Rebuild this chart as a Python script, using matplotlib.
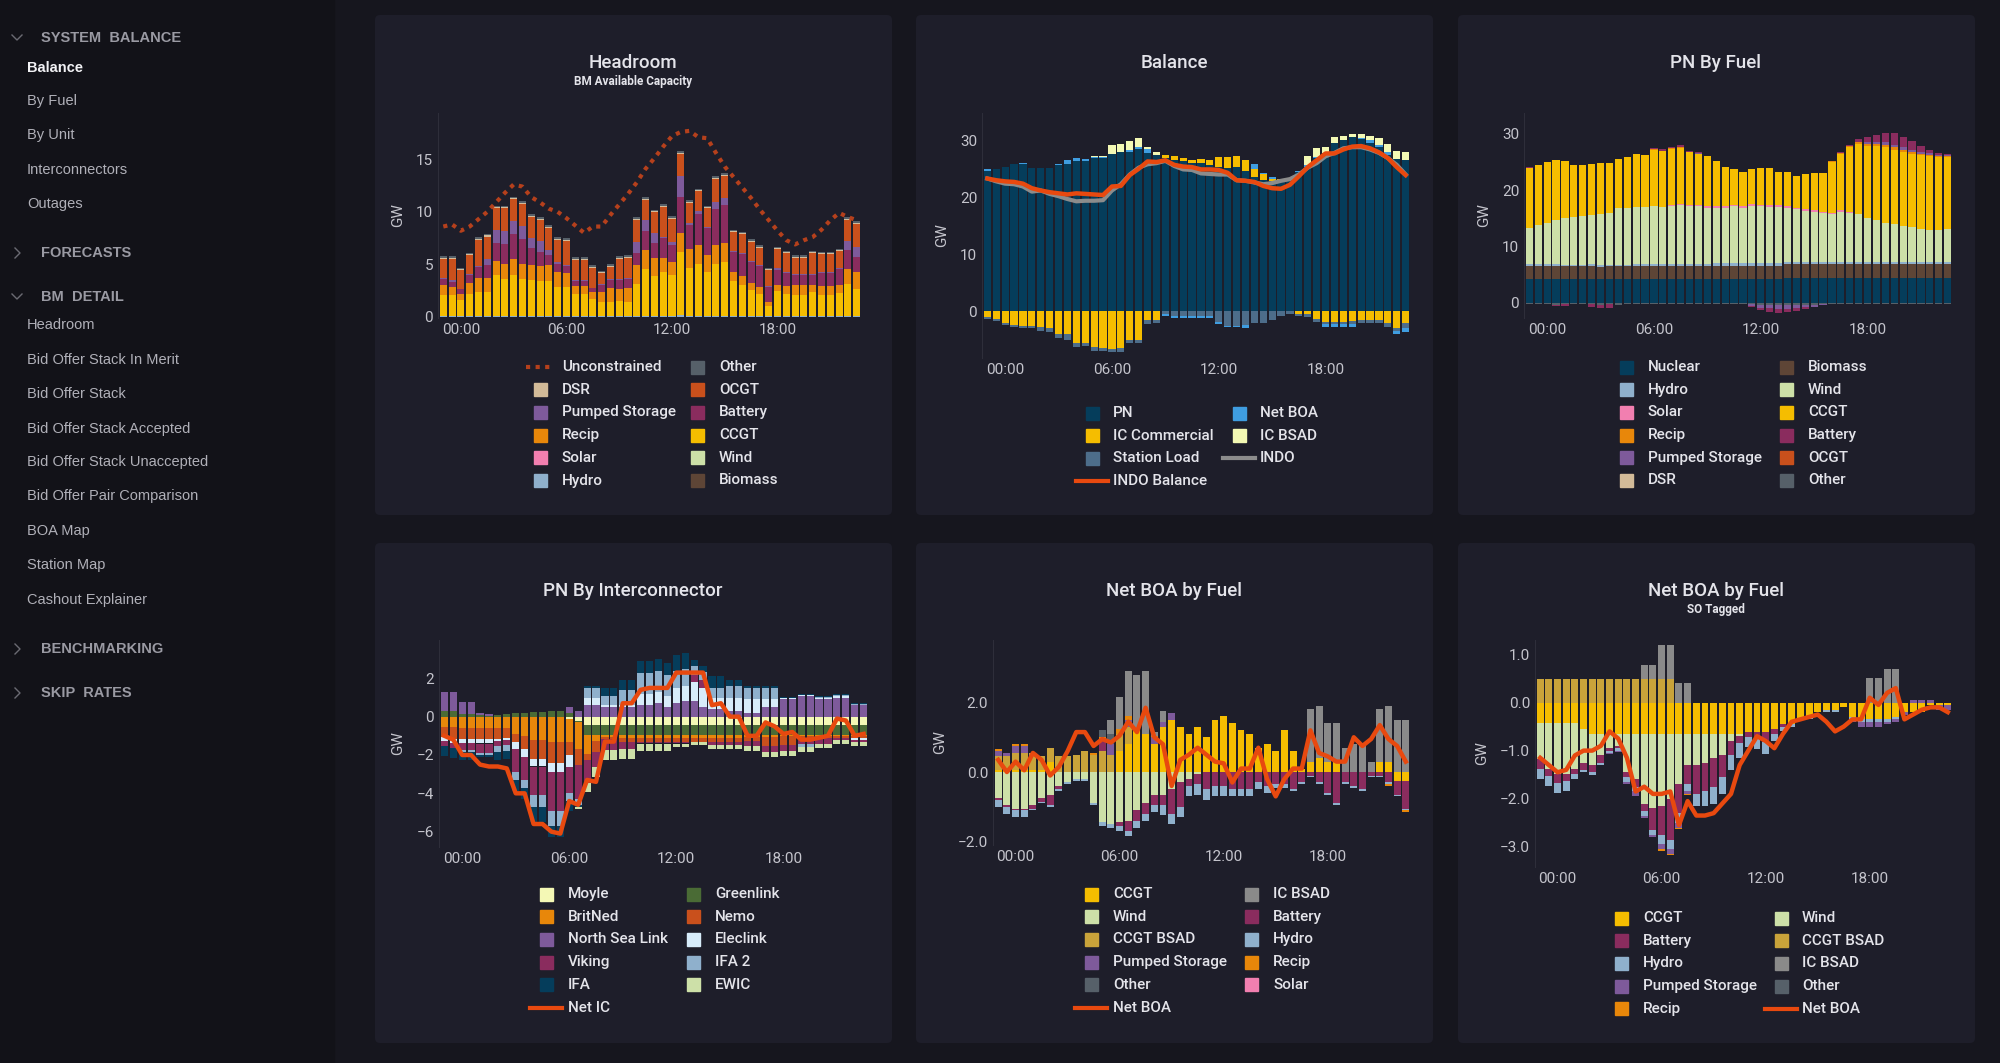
import numpy as np
import matplotlib
matplotlib.use('Agg')
import matplotlib.pyplot as plt
from matplotlib.patches import FancyBboxPatch, Rectangle

plt.rcParams['font.family'] = ['Roboto', 'DejaVu Sans']

# ---------------- data (48 half-hour periods, 00:00 at index 2) ----------------
tick_pos = [2, 14, 26, 38]
tick_lbl = ['00:00', '06:00', '12:00', '18:00']

# Headroom
hr_hydro = [0.05,0.05,0.05,0.05,0.05,0.05,0.05,0.05,0.1,0.05,0.05,0.05,0.05,0.05,0.05,0.05,0.05,0.05,0.05,0.05,0.05,0.05,0.05,0.05,0.05,0.05,0.05,0.2,0.05,0.05,0.05,0.05,0.05,0.05,0.05,0.05,0.05,0.05,0.05,0.05,0.05,0.05,0.05,0.05,0.05,0.05,0.05,0.05]
hr_ccgt = [2.0,2.0,1.6,2.1,2.3,2.3,3.9,3.6,3.9,3.6,3.5,3.4,3.4,2.8,2.8,2.1,2.1,1.7,1.4,1.4,1.5,1.4,3.1,4.5,3.8,4.2,3.9,6.0,4.6,5.0,4.2,5.0,5.2,3.4,3.0,2.5,2.1,1.0,2.4,2.1,2.0,2.0,2.3,2.0,2.0,2.2,3.1,2.6]
hr_recip = [1.0,0.8,0.5,1.1,1.4,1.4,1.4,1.4,1.5,1.4,1.4,1.4,1.5,1.4,1.3,0.8,0.8,0.6,0.9,1.3,1.1,1.3,1.8,1.8,1.8,1.4,1.3,1.8,1.8,1.8,1.6,1.8,1.8,0.8,0.8,0.7,0.7,0.4,0.6,0.8,1.0,1.0,0.7,0.9,0.9,0.8,1.4,1.6]
hr_battery = [0.6,0.5,0.5,0.7,1.0,1.2,1.7,1.9,2.4,2.4,1.6,1.3,0.9,0.8,0.7,0.5,0.5,0.4,0.7,0.8,0.9,0.9,1.1,1.8,1.4,1.9,1.6,3.4,2.3,2.9,2.6,3.4,3.6,1.9,2.1,2.0,2.0,1.4,1.4,1.2,0.9,0.9,0.9,1.2,1.2,1.5,1.8,1.5]
hr_ps = [0.1,0.2,0.0,0.1,0.1,0.6,1.2,1.2,1.2,1.2,1.0,1.1,0.5,0.2,0.1,0.1,0.1,0.0,0.1,0.1,0.1,0.1,1.1,1.1,0.9,0.1,0.3,2.0,0.2,0.3,0.1,0.7,0.7,0.1,0.1,0.1,0.1,0.1,0.2,0.1,0.1,0.1,0.1,0.1,0.1,0.1,0.9,0.9]
hr_ocgt = [1.8,2.0,1.8,1.8,2.5,2.1,2.1,2.2,2.1,2.1,2.0,2.0,2.1,2.1,2.3,1.9,1.9,1.9,1.0,1.1,1.9,1.9,2.1,1.9,2.0,2.8,2.2,2.1,1.9,1.9,1.8,2.2,2.1,1.8,1.8,1.8,1.6,1.5,1.8,1.8,1.6,1.6,2.0,1.7,1.7,1.6,2.0,2.2]
hr_dsr = [0.1,0.1,0.1,0.1,0.1,0.1,0.1,0.1,0.1,0.1,0.1,0.1,0.1,0.1,0.1,0.1,0.1,0.1,0.1,0.1,0.1,0.1,0.1,0.1,0.1,0.1,0.1,0.1,0.1,0.1,0.1,0.1,0.1,0.1,0.1,0.1,0.1,0.1,0.1,0.1,0.1,0.1,0.1,0.1,0.1,0.1,0.1,0.1]
hr_other = [0.15,0.15,0.15,0.15,0.15,0.15,0.15,0.15,0.15,0.15,0.15,0.15,0.15,0.15,0.15,0.15,0.15,0.15,0.15,0.15,0.15,0.15,0.15,0.15,0.15,0.15,0.15,0.15,0.15,0.15,0.15,0.15,0.15,0.15,0.15,0.15,0.15,0.15,0.15,0.15,0.15,0.15,0.15,0.15,0.15,0.15,0.15,0.15]
hr_unconstrained = [8.6,8.8,8.2,8.6,9.3,10.0,10.9,11.8,12.6,12.4,11.4,10.9,10.3,10.0,9.4,8.7,8.0,8.6,8.6,9.7,10.7,11.7,12.8,14.1,15.1,16.2,17.2,17.6,17.7,17.1,17.0,15.6,14.3,13.3,12.3,11.3,10.2,9.2,8.2,7.3,6.9,7.3,7.6,8.3,9.2,9.9,9.5,9.2]

# Balance
bal_pn = [24.7,24.9,25.4,25.8,25.8,25.1,25.1,25.1,25.6,25.9,26.3,26.3,26.9,26.9,27.6,27.9,27.9,28.4,27.8,27.4,26.9,26.6,26.3,26.0,26.0,25.7,25.4,25.1,25.3,24.6,23.6,23.0,22.8,22.8,23.0,24.4,25.4,26.9,27.8,29.5,30.0,30.6,30.3,29.6,28.8,27.5,26.8,26.6]
bal_ic_comm = [-1.0,-1.4,-2.1,-2.4,-2.5,-2.5,-2.8,-3.0,-3.9,-4.0,-5.5,-5.5,-6.3,-6.4,-6.6,-6.5,-5.1,-5.0,-1.6,-1.5,0.6,0.7,0.6,0.6,0.7,0.8,1.6,1.9,1.9,2.0,1.4,1.1,0.5,0.5,0.0,-0.5,-0.5,-1.4,-1.8,-1.8,-1.8,-1.7,-1.5,-1.5,-1.5,-2.0,-2.9,-2.1]
bal_station = [-0.4,-0.3,-0.3,-0.4,-0.5,-0.5,-0.6,-0.7,-0.8,-1.0,-0.7,-0.6,-0.6,-0.6,-0.6,-0.6,-0.5,-0.5,-0.6,-0.6,-0.5,-0.8,-0.8,-0.8,-0.8,-0.8,-1.9,-2.5,-2.5,-2.4,-2.0,-2.1,-1.6,-0.8,-0.4,-0.4,-0.5,-0.5,-0.5,-0.5,-0.4,-0.5,-0.5,-0.5,-0.6,-0.8,-0.6,-0.9]
bal_net_boa = [0.3,0.0,0.0,0.0,0.3,0.0,0.0,0.0,0.3,0.6,0.6,0.5,0.1,0.1,0.0,0.0,0.4,0.5,0.6,0.1,-0.3,-0.3,-0.3,-0.3,-0.3,-0.3,-0.3,-0.3,-0.3,-0.5,0.8,0.2,0.3,0.0,0.0,0.3,0.3,0.2,-0.5,-0.5,-0.5,-0.5,0.2,0.5,0.3,0.5,-0.5,-0.7]
bal_ic_bsad = [0.0,0.0,0.0,0.0,0.0,0.0,0.0,0.0,0.0,0.0,0.0,0.0,0.3,0.3,1.5,1.5,1.5,1.5,0.4,0.4,0.0,0.0,0.0,0.0,0.0,0.0,0.0,0.0,0.0,0.0,0.0,0.0,0.0,0.0,0.0,0.0,1.5,1.5,1.1,1.1,0.8,0.6,0.6,0.7,1.3,1.3,1.3,1.4]
bal_indo = [23.3,22.8,22.4,22.3,21.9,21.0,21.2,20.6,20.2,19.7,19.3,19.4,19.4,19.5,21.2,22.3,24.0,25.2,25.8,26.0,26.4,25.5,24.9,24.8,24.2,24.1,24.0,24.0,23.0,22.9,22.6,22.3,22.5,22.9,23.2,24.0,25.2,26.0,27.2,27.8,28.6,28.8,28.8,28.4,27.8,26.9,25.7,24.0]
bal_indo_balance = [23.3,23.0,22.8,22.7,22.4,21.6,21.2,20.9,20.7,20.5,20.7,20.6,20.5,20.4,21.9,22.0,23.9,25.0,26.3,26.2,26.5,25.7,25.4,25.3,24.9,24.9,24.8,24.3,23.0,22.9,22.7,22.0,21.6,21.5,22.2,23.7,25.3,26.5,27.7,27.7,28.4,28.9,29.0,28.6,27.9,26.9,25.3,23.9]

# PN by fuel
pf_other = [-0.3,-0.3,-0.3,-0.4,-0.3,-0.3,-0.3,-0.3,-0.4,-0.3,-0.4,-0.3,-0.3,-0.3,-0.2,-0.2,-0.2,-0.2,-0.2,-0.2,-0.2,-0.2,-0.3,-0.3,-0.3,-0.3,-0.4,-0.4,-0.4,-0.4,-0.4,-0.4,-0.4,-0.3,-0.3,-0.3,-0.2,-0.2,-0.2,-0.2,-0.2,-0.2,-0.3,-0.3,-0.3,-0.3,-0.3,-0.3]
pf_nuclear = [4.3,4.3,4.3,4.3,4.3,4.3,4.3,4.3,4.3,4.3,4.3,4.3,4.3,4.3,4.3,4.3,4.3,4.3,4.3,4.3,4.3,4.3,4.3,4.3,4.3,4.3,4.3,4.3,4.3,4.4,4.4,4.4,4.4,4.4,4.4,4.4,4.4,4.4,4.4,4.4,4.4,4.4,4.4,4.4,4.4,4.4,4.4,4.4]
pf_biomass = [2.2,2.2,2.2,2.2,2.2,2.2,2.2,2.2,2.0,2.2,2.2,2.2,2.3,2.3,2.3,2.3,2.3,2.3,2.3,2.3,2.3,2.3,2.3,2.3,2.3,2.3,2.3,2.3,2.3,2.4,2.4,2.4,2.4,2.4,2.4,2.4,2.4,2.4,2.4,2.4,2.4,2.4,2.4,2.4,2.4,2.4,2.4,2.4]
pf_hydro = [0.4,0.4,0.3,0.3,0.2,0.2,0.2,0.3,0.4,0.2,0.2,0.2,0.2,0.2,0.3,0.3,0.3,0.3,0.3,0.3,0.3,0.4,0.4,0.4,0.4,0.4,0.4,0.4,0.4,0.4,0.4,0.4,0.4,0.4,0.4,0.4,0.4,0.4,0.4,0.4,0.4,0.4,0.4,0.4,0.4,0.4,0.4,0.4]
pf_wind = [6.3,6.9,7.4,7.9,8.3,8.5,8.7,8.8,9.0,9.3,10.1,10.1,10.2,10.2,10.3,10.1,10.3,10.5,10.3,10.2,10.0,9.9,9.8,10.1,9.8,10.2,10.1,10.0,10.0,9.7,9.4,9.1,9.0,8.7,8.5,9.0,8.8,8.5,7.8,7.5,7.0,6.8,6.5,6.3,5.9,5.7,5.7,5.9]
pf_solar = [0.0,0.0,0.0,0.0,0.0,0.0,0.0,0.0,0.0,0.0,0.0,0.0,0.0,0.0,0.0,0.0,0.1,0.1,0.2,0.2,0.2,0.3,0.3,0.3,0.3,0.3,0.3,0.3,0.3,0.3,0.3,0.3,0.3,0.3,0.3,0.3,0.2,0.1,0.1,0.0,0.0,0.0,0.0,0.0,0.0,0.0,0.0,0.0]
pf_ccgt = [10.7,10.7,10.8,10.6,10.1,9.3,9.1,9.0,9.2,8.8,8.7,9.1,9.5,9.3,10.0,9.9,10.0,10.0,9.3,9.2,9.0,8.0,7.1,6.4,6.2,6.2,6.5,6.6,6.0,6.0,5.7,6.2,6.5,6.8,9.0,10.0,11.4,12.4,12.7,13.1,13.5,13.2,13.1,12.9,13.1,13.1,13.0,12.7]
pf_recip = [0.0,0.0,0.0,0.0,0.0,0.0,0.0,0.0,0.0,0.0,0.0,0.0,0.0,0.0,0.1,0.1,0.1,0.1,0.0,0.0,0.0,0.0,0.0,0.0,0.0,0.0,0.0,0.0,0.0,0.0,0.0,0.0,0.0,0.0,0.1,0.1,0.2,0.3,0.4,0.4,0.4,0.4,0.4,0.4,0.3,0.3,0.2,0.2]
pf_battery = [0.3,0.0,0.0,-0.2,-0.2,0.0,0.0,-0.5,-0.5,-0.6,0.0,0.0,0.0,0.0,0.2,0.3,0.3,0.4,0.1,0.2,0.0,0.0,0.0,0.0,0.0,-0.3,-0.4,-0.6,-0.8,-0.6,-0.5,-0.3,-0.1,0.0,0.0,0.1,0.2,0.4,1.0,1.2,1.5,2.0,1.8,1.6,1.0,0.5,0.3,0.2]
pf_ps = [0.0,0.0,0.0,0.0,0.0,0.0,0.0,0.0,0.0,0.0,0.0,0.0,0.0,0.0,0.0,0.0,0.0,0.0,0.1,0.1,0.0,0.0,0.0,0.0,0.0,-0.2,-0.5,-0.6,-0.7,-0.7,-0.5,-0.4,-0.3,-0.1,0.0,0.0,0.1,0.1,0.3,0.4,0.5,0.5,0.5,0.4,0.3,0.3,0.2,0.2]

# PN by interconnector
ic_moyle = [0.0,0.0,0.0,0.0,0.0,0.0,0.0,0.0,0.0,0.0,0.0,0.0,0.0,0.0,-0.1,-0.2,-0.45,-0.45,-0.45,-0.45,-0.45,-0.45,-0.45,-0.45,-0.45,-0.45,-0.45,-0.45,-0.45,-0.45,-0.45,-0.45,-0.45,-0.45,-0.45,-0.45,-0.45,-0.45,-0.45,-0.45,-0.45,-0.45,-0.45,-0.45,-0.45,-0.45,-0.45,-0.45]
ic_greenlink = [0.3,0.3,0.15,0.15,0.1,0.05,0.1,0.15,0.2,0.2,0.25,0.25,0.3,0.3,0.2,-0.1,-0.5,-0.5,-0.5,-0.5,-0.5,-0.5,-0.5,-0.5,-0.5,-0.5,-0.5,-0.5,-0.5,-0.5,-0.5,-0.5,-0.5,-0.5,-0.5,-0.5,-0.5,-0.5,-0.5,-0.5,-0.5,-0.5,-0.5,-0.5,-0.5,-0.5,-0.5,-0.5]
ic_britned = [-0.55,-0.55,-0.6,-0.6,-0.6,-0.6,-0.6,-0.6,-0.9,-1.0,-1.2,-1.2,-1.3,-1.3,-1.2,-1.4,-1.0,-0.3,-0.1,-0.1,-0.15,-0.15,-0.15,-0.15,-0.15,-0.15,-0.15,-0.15,-0.15,-0.15,-0.15,-0.15,-0.15,-0.15,-0.1,-0.1,-0.1,-0.1,-0.05,-0.05,-0.05,-0.05,-0.05,-0.05,-0.05,-0.05,-0.05,-0.05]
ic_nemo = [-0.5,-0.6,-0.55,-0.55,-0.55,-0.55,-0.55,-0.5,-0.4,-0.7,-1.0,-1.0,-1.1,-1.1,-0.7,-0.8,-0.3,-0.6,-0.1,-0.1,-0.2,-0.2,-0.2,-0.2,-0.2,-0.2,-0.2,-0.2,-0.2,-0.2,-0.2,-0.2,-0.2,-0.2,-0.2,-0.2,-0.5,-0.5,-0.5,-0.5,-0.1,-0.1,-0.1,-0.1,-0.1,-0.1,-0.1,-0.1]
ic_nsl = [1.0,1.0,0.6,0.6,0.1,0.1,0.0,0.0,0.0,0.0,0.0,0.0,0.0,0.0,0.3,0.3,0.6,0.6,0.5,0.5,0.5,0.5,0.6,0.6,0.7,0.5,0.7,0.8,0.8,0.5,0.4,0.4,0.3,0.3,0.2,0.2,0.5,0.5,0.9,0.9,1.1,1.1,0.9,0.9,1.0,1.0,0.6,0.6]
ic_eleclink = [-0.2,-0.2,-0.2,-0.2,-0.25,-0.25,-0.1,-0.1,-0.4,-0.4,-0.4,-0.4,-0.5,-0.5,-0.6,0.0,0.4,0.4,0.1,0.1,0.1,0.1,0.6,0.6,0.6,0.6,0.8,0.8,1.0,1.0,0.6,0.6,0.7,0.7,0.7,0.7,0.4,0.4,0.05,0.05,0.05,0.05,0.1,0.1,0.1,0.1,-0.1,-0.1]
ic_viking = [-0.3,-0.3,-0.4,-0.4,-0.5,-0.5,-0.3,-0.3,-1.2,-1.2,-1.5,-1.5,-2.0,-2.0,-1.4,-1.8,-1.2,-0.8,-0.6,-0.6,-0.4,-0.4,-0.1,-0.1,-0.1,-0.1,-0.1,-0.1,0.4,0.4,-0.2,-0.2,-0.2,-0.2,-0.3,-0.3,-0.3,-0.3,-0.3,-0.3,-0.3,-0.3,-0.3,-0.3,-0.1,-0.1,-0.1,-0.1]
ic_ifa2 = [0.0,0.0,-0.1,-0.1,-0.1,-0.1,-0.3,-0.3,-0.4,-0.4,-0.6,-0.6,-0.8,-0.8,-0.4,-0.3,0.5,0.5,0.5,0.5,0.8,0.8,1.1,1.1,1.1,1.1,0.9,0.9,0.45,0.45,0.5,0.5,0.6,0.6,0.6,0.6,0.6,0.6,0.05,0.05,-0.2,-0.2,0.05,0.05,0.05,0.05,0.05,0.05]
ic_ifa = [-0.5,-0.5,-0.4,-0.4,-0.1,-0.1,-0.4,-0.4,-0.6,-0.6,-0.8,-0.8,-0.6,-0.6,-0.5,-0.1,0.1,0.1,0.4,0.4,0.5,0.5,0.6,0.6,0.6,0.6,0.8,0.8,0.3,0.3,0.6,0.6,0.3,0.3,0.1,0.1,0.1,0.1,0.05,0.05,0.05,0.05,0.05,0.05,0.05,0.05,0.05,0.05]
ic_ewic = [0.0,0.0,0.0,0.0,0.0,0.0,0.0,0.0,0.0,0.0,0.0,0.0,0.0,0.0,0.0,-0.1,-0.5,-0.5,-0.5,-0.5,-0.5,-0.5,-0.4,-0.4,-0.4,-0.4,-0.2,-0.2,-0.2,-0.2,-0.2,-0.2,-0.2,-0.2,-0.25,-0.25,-0.25,-0.25,-0.25,-0.25,-0.25,-0.25,-0.25,-0.25,-0.25,-0.25,-0.25,-0.25]
ic_net = [-1.0,-1.2,-2.0,-2.0,-2.5,-2.6,-2.6,-2.7,-4.0,-4.0,-5.6,-5.6,-6.0,-6.1,-4.4,-4.6,-3.3,-3.4,-1.3,-1.3,0.7,0.7,1.4,1.5,1.5,1.5,2.3,2.3,2.3,2.3,0.6,0.7,0.0,0.0,-1.0,-1.0,-0.3,-0.5,-0.9,-0.8,-1.2,-1.2,-1.1,-1.0,-0.1,-0.2,-1.0,-0.9]

# Net BOA by fuel
nb_ccgt = [0.05,0.05,0.05,0.05,0.05,0.05,0.3,0.0,0.0,0.0,0.0,0.0,0.0,0.0,0.6,0.8,1.2,1.1,0.8,1.3,1.5,1.3,1.1,1.3,1.0,1.5,1.6,1.4,1.2,1.1,0.7,0.8,0.6,1.2,0.6,0.1,0.3,0.4,0.3,0.3,0.0,0.0,0.0,0.0,0.3,0.3,-0.25,-0.25]
nb_wind = [-0.75,-0.95,-1.05,-1.05,-0.95,-0.75,-0.65,-0.4,-0.3,-0.2,-0.2,-0.9,-1.45,-1.5,-1.45,-1.4,-1.1,-0.9,-0.65,-0.65,-0.5,-0.3,-0.2,-0.05,0.0,0.0,0.0,0.0,0.0,0.0,0.0,0.0,0.0,0.0,0.0,0.0,0.0,0.0,0.0,0.0,0.0,0.0,0.0,0.0,0.0,0.0,0.0,0.0]
nb_ccgt_bsad = [0.4,0.4,0.5,0.5,0.5,0.4,0.4,0.45,0.45,0.5,0.6,0.5,0.6,0.5,0.5,0.5,0.0,0.0,0.0,0.0,0.0,0.0,0.0,0.0,0.0,0.0,0.0,0.0,0.0,0.0,0.0,0.0,0.0,0.0,0.0,0.0,0.0,0.0,0.0,0.0,0.0,0.0,0.0,0.0,0.0,0.0,0.0,0.0]
nb_ps = [0.15,0.1,0.2,0.2,0.0,0.0,0.0,0.0,0.0,0.0,0.0,0.0,0.0,0.3,0.0,0.2,0.0,0.0,0.2,0.15,0.2,0.0,0.0,0.0,0.0,0.0,0.0,0.0,0.0,0.0,0.0,0.0,0.0,0.0,0.0,0.0,0.0,0.0,0.0,0.0,0.0,0.0,0.0,0.0,0.0,0.0,0.0,0.0]
nb_other = [0.0,0.0,0.0,0.0,0.0,0.0,0.0,0.0,0.0,0.0,0.0,0.0,0.2,0.3,0.0,0.0,0.0,0.0,0.0,0.0,0.0,0.0,0.0,0.0,0.0,0.0,0.0,0.0,0.0,0.0,0.0,0.0,0.0,0.0,0.0,0.0,0.0,0.0,0.0,0.0,0.0,0.0,0.0,0.0,0.0,0.0,0.0,0.0]
nb_ic_bsad = [0.0,0.0,0.0,0.0,0.0,0.0,0.0,0.0,0.0,0.0,0.0,0.0,0.0,0.4,0.9,1.3,1.6,1.8,0.1,0.3,0.0,0.0,0.0,0.0,0.0,0.0,0.0,0.0,0.0,0.0,0.0,0.0,0.0,0.0,0.0,0.0,1.5,1.5,1.1,1.1,0.7,0.8,0.8,0.3,1.5,1.6,1.5,1.5]
nb_battery = [-0.05,-0.05,-0.05,-0.05,-0.1,-0.1,-0.3,-0.1,0.0,0.0,0.0,0.0,0.3,0.0,-0.1,-0.3,-0.3,-0.3,-0.3,-0.3,-0.7,-0.7,-0.2,-0.3,-0.5,-0.4,-0.4,-0.5,-0.5,-0.5,-0.3,-0.4,-0.35,-0.35,-0.5,-0.3,-0.1,-0.3,-0.6,-0.9,-0.3,-0.4,-0.5,-0.1,-0.1,-0.3,-0.4,-0.8]
nb_hydro = [-0.2,-0.2,-0.2,-0.2,-0.05,-0.05,-0.05,-0.05,-0.05,-0.05,-0.05,-0.05,-0.1,-0.1,-0.15,-0.15,-0.2,-0.2,-0.2,-0.3,-0.3,-0.3,-0.3,-0.3,-0.3,-0.3,-0.3,-0.2,-0.2,-0.2,-0.2,-0.2,-0.1,-0.1,-0.05,-0.05,-0.05,-0.05,-0.05,-0.05,-0.05,-0.05,-0.05,-0.05,-0.05,-0.05,-0.05,-0.05]
nb_recip = [0.05,0.0,0.05,0.05,0.0,0.0,0.0,0.0,0.0,0.0,0.0,0.05,0.1,0.0,0.15,0.1,0.0,0.0,0.05,0.0,0.0,0.0,0.0,0.0,0.0,0.0,0.0,0.0,0.0,0.0,0.0,0.0,0.0,0.0,0.0,0.0,0.0,0.0,0.0,0.0,0.0,0.0,0.0,0.0,0.0,-0.05,0.0,-0.05]
nb_net = [0.35,0.0,0.3,0.05,0.55,0.35,-0.1,0.15,0.6,1.15,1.15,0.75,0.95,0.85,1.05,1.45,1.15,1.85,1.0,0.8,-0.4,0.35,0.5,0.7,0.5,0.3,0.25,-0.3,0.1,0.1,0.7,-0.2,-0.7,-0.2,0.1,0.1,1.2,0.55,0.45,0.3,0.3,1.0,0.75,0.95,1.35,0.95,0.75,0.3]

# Net BOA by fuel, SO tagged
so_ccgt = [-0.43,-0.43,-0.43,-0.43,-0.43,-0.55,-0.65,-0.65,-0.65,-0.65,-0.65,-0.65,-0.65,-0.65,-0.65,-0.65,-0.65,-0.65,-0.65,-0.65,-0.65,-0.65,-0.65,-0.65,-0.62,-0.62,-0.62,-0.55,-0.45,-0.45,-0.35,-0.3,-0.2,-0.15,-0.15,-0.1,-0.3,-0.35,-0.35,-0.35,-0.35,-0.3,-0.2,-0.2,-0.2,-0.05,-0.05,-0.05]
so_wind = [-0.75,-0.95,-1.05,-1.05,-0.95,-0.7,-0.65,-0.45,-0.3,-0.25,-0.8,-0.95,-1.45,-1.55,-1.5,-1.35,-1.05,-0.65,-0.65,-0.6,-0.5,-0.45,-0.15,-0.05,0.0,0.0,0.0,0.0,0.0,0.0,0.0,0.0,0.0,0.0,0.0,0.0,0.0,0.0,0.0,0.0,0.0,0.0,0.0,0.0,0.0,0.0,0.0,0.0]
so_battery = [-0.2,-0.15,-0.2,-0.15,-0.1,-0.15,-0.15,-0.15,-0.05,-0.05,-0.1,-0.15,-0.15,-0.45,-0.6,-0.85,-0.6,-0.4,-0.6,-0.6,-0.6,-0.45,-0.3,-0.15,-0.1,-0.1,-0.2,-0.1,-0.05,0.0,0.0,0.0,0.0,0.0,0.0,0.0,0.0,0.0,0.0,0.0,0.0,0.0,0.0,0.0,0.0,0.0,0.0,0.0]
so_hydro = [-0.2,-0.2,-0.2,-0.2,-0.1,-0.05,-0.05,-0.05,-0.05,-0.05,-0.1,-0.1,-0.1,-0.1,-0.2,-0.2,-0.2,-0.15,-0.25,-0.3,-0.35,-0.35,-0.3,-0.3,-0.2,-0.25,-0.25,-0.15,-0.1,-0.05,0.0,-0.05,0.0,-0.05,-0.05,0.0,-0.05,-0.05,-0.05,-0.05,-0.05,-0.05,0.0,0.0,0.0,0.0,0.0,0.0]
so_ps = [0.0,0.0,0.0,0.0,0.0,0.0,0.0,0.0,-0.03,-0.03,-0.05,-0.1,-0.05,-0.05,-0.1,-0.1,-0.1,-0.05,0.0,0.0,0.0,0.0,0.0,0.0,0.0,0.0,0.0,0.0,0.0,0.0,0.0,0.0,0.0,0.0,0.0,0.0,-0.05,-0.1,-0.1,-0.1,-0.05,-0.05,-0.05,0.05,0.05,0.05,-0.1,-0.1]
so_recip = [0.0,0.0,0.0,0.0,0.0,0.0,0.0,0.0,0.0,0.0,0.0,0.0,0.0,0.0,-0.03,-0.03,-0.03,-0.03,0.0,0.0,0.0,0.0,0.0,0.0,0.0,0.0,0.0,0.0,0.0,0.0,0.0,0.0,0.0,0.0,0.0,0.0,0.0,0.0,0.0,0.0,0.0,0.0,0.0,0.0,0.0,0.0,0.0,0.0]
so_ccgt_bsad = [0.48,0.48,0.48,0.48,0.48,0.48,0.48,0.48,0.48,0.48,0.48,0.48,0.48,0.48,0.48,0.48,0.0,0.0,0.0,0.0,0.0,0.0,0.0,0.0,0.0,0.0,0.0,0.0,0.0,0.0,0.0,0.0,0.0,0.0,0.0,0.0,0.0,0.0,0.0,0.0,0.0,0.0,0.0,0.0,0.0,0.0,0.0,0.0]
so_ic_bsad = [0.0,0.0,0.0,0.0,0.0,0.0,0.0,0.0,0.0,0.0,0.0,0.0,0.3,0.3,0.72,0.72,0.4,0.4,0.0,0.0,0.0,0.0,0.0,0.0,0.0,0.0,0.0,0.0,0.0,0.0,0.0,0.0,0.0,0.0,0.0,0.0,0.0,0.0,0.5,0.5,0.7,0.7,0.0,0.0,0.0,0.0,0.0,0.0]
so_net = [-1.15,-1.3,-1.45,-1.4,-1.1,-1.0,-1.0,-0.9,-0.6,-0.75,-1.15,-1.85,-1.75,-1.9,-1.9,-1.85,-2.55,-2.05,-2.35,-2.35,-2.3,-2.1,-1.9,-1.3,-1.0,-0.7,-0.8,-0.95,-0.65,-0.4,-0.35,-0.3,-0.25,-0.4,-0.6,-0.5,-0.35,-0.35,0.1,-0.05,0.2,0.3,-0.35,-0.25,-0.15,-0.1,-0.1,-0.2]

# ---------------- colours ----------------
C = {
    'nuclear': '#053d5b', 'hydro': '#8fb0cc', 'solar': '#f27fb0', 'recip': '#e8870a',
    'ps': '#7e5a9b', 'dsr': '#d3bb99', 'biomass': '#5e4536', 'wind': '#cde0a8',
    'ccgt': '#f5bd00', 'battery': '#8a2c5e', 'ocgt': '#c9501c', 'other': '#566069',
    'station': '#4d6d8a', 'netboa': '#3f9de0', 'icbsad': '#f3f9b4', 'indo': '#8c8c8c',
    'line': '#e8490f', 'uncon': '#b5401c', 'moyle': '#f4f8b5', 'greenlink': '#4a6b35',
    'eleclink': '#d7ecfa', 'ccgtbsad': '#c9a33a', 'icbsad2': '#8a8a8a',
}
FIG_BG = '#16161e'
SIDE_BG = '#121218'
PANEL_BG = '#1e1e2a'
TXT = '#e4e4ea'
TICK = '#c4c4cc'

W, H = 2000, 1063
fig = plt.figure(figsize=(W / 100, H / 100), dpi=100, facecolor=FIG_BG)
bg = fig.add_axes([0, 0, 1, 1], zorder=-5)
bg.set_xlim(0, W)
bg.set_ylim(H, 0)
bg.axis('off')
bg.add_patch(Rectangle((0, 0), 334, H, color=SIDE_BG))

# sidebar
side = [
    ('h', 'SYSTEM BALANCE', 38, 'v'), ('a', 'Balance', 68, None), ('i', 'By Fuel', 101, None),
    ('i', 'By Unit', 135, None), ('i', 'Interconnectors', 170, None), ('i', 'Outages', 204, None),
    ('h', 'FORECASTS', 253, '>'), ('h', 'BM DETAIL', 297, 'v'), ('i', 'Headroom', 325, None),
    ('i', 'Bid Offer Stack In Merit', 360, None), ('i', 'Bid Offer Stack', 394, None),
    ('i', 'Bid Offer Stack Accepted', 429, None), ('i', 'Bid Offer Stack Unaccepted', 462, None),
    ('i', 'Bid Offer Pair Comparison', 496, None), ('i', 'BOA Map', 531, None),
    ('i', 'Station Map', 565, None), ('i', 'Cashout Explainer', 600, None),
    ('h', 'BENCHMARKING', 649, '>'), ('h', 'SKIP RATES', 693, '>'),
]
for kind, label, y, chev in side:
    if kind == 'h':
        bg.text(41, y, '  '.join(label.split(' ')), color='#9a9aa3', fontsize=10.5, fontweight='bold',
                family='Liberation Sans', va='center')
        if chev == 'v':
            bg.plot([12, 17, 22], [y - 3, y + 2, y - 3], color='#6a6a72', lw=1)
        else:
            bg.plot([15, 20, 15], [y - 5, y, y + 5], color='#6a6a72', lw=1)
    elif kind == 'a':
        bg.text(27, y, label, color='#f2f2f5', fontsize=10.5, fontweight='bold', family='Liberation Sans', va='center')
    else:
        bg.text(27, y, label, color='#b0b0b8', fontsize=10.5, family='Liberation Sans', va='center')

panels = [(375, 15), (916, 15), (1458, 15), (375, 543), (916, 543), (1458, 543)]
for px, py in panels:
    bg.add_patch(FancyBboxPatch((px, py), 517, 500, boxstyle='round,pad=0,rounding_size=5',
                                facecolor=PANEL_BG, edgecolor='none'))


def make_ax(x0, x1, y0, y1):
    ax = fig.add_axes([x0 / W, 1 - y1 / H, (x1 - x0) / W, (y1 - y0) / H])
    ax.set_facecolor('none')
    for s in ['top', 'right', 'bottom']:
        ax.spines[s].set_visible(False)
    ax.spines['left'].set_color('#2e2e3a')
    ax.tick_params(length=0, colors=TICK, labelsize=11)
    ax.set_xticks(tick_pos)
    ax.set_xticklabels(tick_lbl)
    ax.set_xlim(-0.6, 47.6)
    ax.set_ylabel('GW', color=TICK, fontsize=11, labelpad=8)
    return ax


def stack(ax, series, colors, width=0.8):
    x = np.arange(48)
    pos = np.zeros(48)
    neg = np.zeros(48)
    for vals, col in zip(series, colors):
        v = np.asarray(vals, dtype=float)
        p = np.where(v > 0, v, 0)
        n = np.where(v < 0, v, 0)
        ax.bar(x, p, width, bottom=pos, color=col, linewidth=0)
        ax.bar(x, n, width, bottom=neg, color=col, linewidth=0)
        pos += p
        neg += n


def title(px, py, t, sub=None):
    bg.text(px + 258, py + 48, t, color=TXT, fontsize=13.5, fontweight='medium', ha='center', va='center')
    if sub:
        bg.text(px + 258, py + 67, sub, color=TXT, fontsize=8.5, fontweight='bold', ha='center', va='center')


def legend(px, y0, entries, cols):
    # entries: (label, colour, kind) placed row-major in two columns
    for k, (label, col, kind) in enumerate(entries):
        r, c = divmod(k, 2)
        mx, tx = cols[c]
        y = y0 + r * 22.7
        if kind == 'box':
            bg.add_patch(Rectangle((px + mx - 6.5, y - 6.5), 13, 13, color=col))
        elif kind == 'dot':
            bg.plot([px + mx - 14, px + mx + 14], [y, y], color=col, lw=3, ls=(0, (1, 1.3)))
        else:
            bg.plot([px + mx - 16, px + mx + 16], [y, y], color=col, lw=3)
        bg.text(px + tx, y, label, color=TXT, fontsize=11, fontweight='medium', va='center')


x48 = np.arange(48)

# ---- Headroom ----
ax = make_ax(438, 862, 113, 318)
stack(ax, [hr_hydro, hr_ccgt, hr_recip, hr_battery, hr_ps, hr_ocgt, hr_dsr, hr_other],
      [C['hydro'], C['ccgt'], C['recip'], C['battery'], C['ps'], C['ocgt'], C['dsr'], C['other']])
ax.plot(x48, hr_unconstrained, color=C['uncon'], lw=3, ls=(0, (1, 1.3)))
ax.set_ylim(-0.1, 19.4)
ax.set_yticks([0, 5, 10, 15])
title(375, 15, 'Headroom', 'BM Available Capacity')
legend(375, 367, [('Unconstrained', C['uncon'], 'dot'), ('Other', C['other'], 'box'),
                  ('DSR', C['dsr'], 'box'), ('OCGT', C['ocgt'], 'box'),
                  ('Pumped Storage', C['ps'], 'box'), ('Battery', C['battery'], 'box'),
                  ('Recip', C['recip'], 'box'), ('CCGT', C['ccgt'], 'box'),
                  ('Solar', C['solar'], 'box'), ('Wind', C['wind'], 'box'),
                  ('Hydro', C['hydro'], 'box'), ('Biomass', C['biomass'], 'box')],
       [(165, 187), (322, 344)])

# ---- Balance ----
ax = make_ax(982, 1411, 113, 358)
stack(ax, [bal_pn, bal_ic_comm, bal_station, bal_net_boa, bal_ic_bsad],
      [C['nuclear'], C['ccgt'], C['station'], C['netboa'], C['icbsad']])
ax.plot(x48, bal_indo, color=C['indo'], lw=3)
ax.plot(x48, bal_indo_balance, color=C['line'], lw=3.2)
ax.set_ylim(-8.2, 34.8)
ax.set_yticks([0, 10, 20, 30])
title(916, 15, 'Balance')
legend(916, 413, [('PN', C['nuclear'], 'box'), ('Net BOA', C['netboa'], 'box'),
                  ('IC Commercial', C['ccgt'], 'box'), ('IC BSAD', C['icbsad'], 'box'),
                  ('Station Load', C['station'], 'box'), ('INDO', C['indo'], 'line'),
                  ('INDO Balance', C['line'], 'line')],
       [(176, 197), (323, 344)])

# ---- PN By Fuel ----
ax = make_ax(1524, 1953, 113, 318)
stack(ax, [pf_other, pf_nuclear, pf_biomass, pf_hydro, pf_wind, pf_solar, pf_ccgt, pf_recip, pf_ps, pf_battery],
      [C['other'], C['nuclear'], C['biomass'], C['hydro'], C['wind'], C['solar'], C['ccgt'], C['recip'], C['ps'], C['battery']])
ax.set_ylim(-2.7, 33.7)
ax.set_yticks([0, 10, 20, 30])
title(1458, 15, 'PN By Fuel')
legend(1458, 367, [('Nuclear', C['nuclear'], 'box'), ('Biomass', C['biomass'], 'box'),
                   ('Hydro', C['hydro'], 'box'), ('Wind', C['wind'], 'box'),
                   ('Solar', C['solar'], 'box'), ('CCGT', C['ccgt'], 'box'),
                   ('Recip', C['recip'], 'box'), ('Battery', C['battery'], 'box'),
                   ('Pumped Storage', C['ps'], 'box'), ('OCGT', C['ocgt'], 'box'),
                   ('DSR', C['dsr'], 'box'), ('Other', C['other'], 'box')],
       [(168, 190), (328, 350)])

# ---- PN By Interconnector ----
ax = make_ax(439, 869, 640, 847)
stack(ax, [ic_moyle, ic_greenlink, ic_britned, ic_nemo, ic_nsl, ic_eleclink, ic_viking, ic_ifa2, ic_ifa, ic_ewic],
      [C['moyle'], C['greenlink'], C['recip'], C['ocgt'], C['ps'], C['eleclink'], C['battery'], C['hydro'], C['nuclear'], C['wind']])
ax.plot(x48, ic_net, color=C['line'], lw=3.2)
ax.set_ylim(-6.8, 4.0)
ax.set_yticks([-6, -4, -2, 0, 2])
title(375, 543, 'PN By Interconnector')
legend(375, 894, [('Moyle', C['moyle'], 'box'), ('Greenlink', C['greenlink'], 'box'),
                  ('BritNed', C['recip'], 'box'), ('Nemo', C['ocgt'], 'box'),
                  ('North Sea Link', C['ps'], 'box'), ('Eleclink', C['eleclink'], 'box'),
                  ('Viking', C['battery'], 'box'), ('IFA 2', C['hydro'], 'box'),
                  ('IFA', C['nuclear'], 'box'), ('EWIC', C['wind'], 'box'),
                  ('Net IC', C['line'], 'line')],
       [(171, 193), (318, 340)])

# ---- Net BOA by Fuel ----
ax = make_ax(993, 1411, 640, 845)
stack(ax, [nb_ccgt, nb_wind, nb_ccgt_bsad, nb_battery, nb_ps, nb_hydro, nb_recip, nb_other, nb_ic_bsad],
      [C['ccgt'], C['wind'], C['ccgtbsad'], C['battery'], C['ps'], C['hydro'], C['recip'], C['other'], C['icbsad2']])
ax.plot(x48, nb_net, color=C['line'], lw=3.2)
ax.set_ylim(-2.1, 3.8)
ax.set_yticks([-2, 0, 2])
ax.set_yticklabels(['\u22122.0', '0.0', '2.0'])
title(916, 543, 'Net BOA by Fuel')
legend(916, 894, [('CCGT', C['ccgt'], 'box'), ('IC BSAD', C['icbsad2'], 'box'),
                  ('Wind', C['wind'], 'box'), ('Battery', C['battery'], 'box'),
                  ('CCGT BSAD', C['ccgtbsad'], 'box'), ('Hydro', C['hydro'], 'box'),
                  ('Pumped Storage', C['ps'], 'box'), ('Recip', C['recip'], 'box'),
                  ('Other', C['other'], 'box'), ('Solar', C['solar'], 'box'),
                  ('Net BOA', C['line'], 'line')],
       [(175, 197), (335, 357)])

# ---- Net BOA by Fuel (SO tagged) ----
ax = make_ax(1535, 1953, 640, 867)
stack(ax, [so_ccgt, so_wind, so_battery, so_hydro, so_ps, so_recip, so_ccgt_bsad, so_ic_bsad],
      [C['ccgt'], C['wind'], C['battery'], C['hydro'], C['ps'], C['recip'], C['ccgtbsad'], C['icbsad2']])
ax.plot(x48, so_net, color=C['line'], lw=3.2)
ax.set_ylim(-3.42, 1.3)
ax.set_yticks([-3, -2, -1, 0, 1])
ax.set_yticklabels(['\u22123.0', '\u22122.0', '\u22121.0', '0.0', '1.0'])
title(1458, 543, 'Net BOA by Fuel', 'SO Tagged')
legend(1458, 918, [('CCGT', C['ccgt'], 'box'), ('Wind', C['wind'], 'box'),
                   ('Battery', C['battery'], 'box'), ('CCGT BSAD', C['ccgtbsad'], 'box'),
                   ('Hydro', C['hydro'], 'box'), ('IC BSAD', C['icbsad2'], 'box'),
                   ('Pumped Storage', C['ps'], 'box'), ('Other', C['other'], 'box'),
                   ('Recip', C['recip'], 'box'), ('Net BOA', C['line'], 'line')],
       [(163, 185), (323, 344)])

fig.savefig('out.png', dpi=100, facecolor=FIG_BG)
